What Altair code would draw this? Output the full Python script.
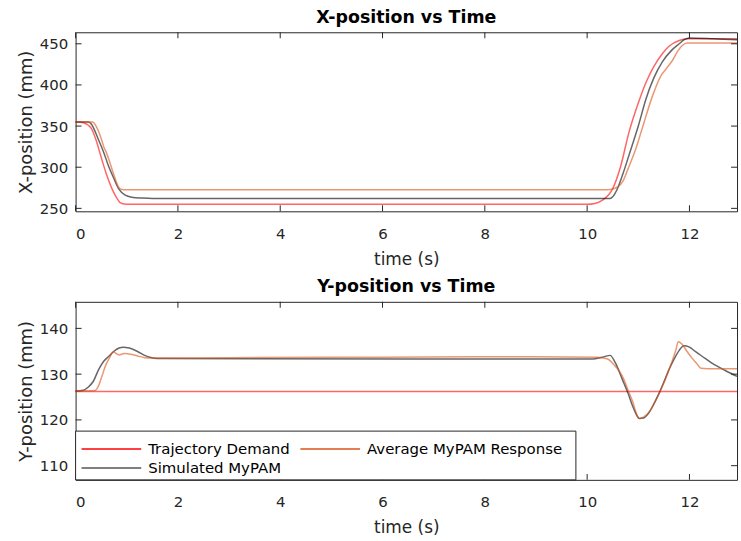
import altair as alt
import pandas as pd

X_MAX = 12.93
x_ticks = [0, 2, 4, 6, 8, 10, 12]
top_y_ticks = [250, 300, 350, 400, 450]
bot_y_ticks = [110, 120, 130, 140]
series_names = ["Trajectory Demand", "Average MyPAM Response", "Simulated MyPAM"]
series_colors = ["#ff0000", "#d95319", "#000000"]
legend_colors = ["#ff0000", "#d95319", "#555555"]

# ---- X-position panel ----
x_demand_t = [0, 0.15, 0.25, 0.31, 0.4, 0.51, 0.6, 0.71, 0.8, 0.87, 0.95, 1.05, 10.0, 10.15, 10.3, 10.5,
              10.65, 10.82, 11.0, 11.15, 11.3, 11.47, 11.6, 11.8, 11.95, 12.93]
x_demand_v = [355, 354, 351, 347, 333, 310, 292, 274, 263, 257, 255.3, 255, 255, 256, 260, 274,
              300, 343, 378, 403, 422, 438, 447, 454, 456, 456]

x_avg_t = [0, 0.33, 0.4, 0.5, 0.55, 0.6, 0.7, 0.78, 0.85, 0.9, 1.0, 10.3, 10.45, 10.6, 10.7, 10.8,
           10.95, 11.1, 11.28, 11.45, 11.55, 11.67, 11.78, 11.86, 11.95, 12.93]
x_avg_v = [355, 355, 350, 335, 325, 318, 300, 285, 275, 273, 272.5, 272.5, 273, 276, 283, 298,
           322, 352, 387, 412, 420, 430, 442, 448, 451, 451]

x_sim_t = [0, 0.25, 0.3, 0.45, 0.55, 0.64, 0.75, 0.84, 0.97, 1.1, 1.3, 1.5, 10.45, 10.5, 10.6, 10.7,
           10.82, 11.0, 11.15, 11.3, 11.47, 11.65, 11.8, 11.9, 12.0, 12.5, 12.93]
x_sim_v = [355, 355, 353, 333, 318, 302, 286, 274, 266, 263.5, 262.5, 262, 262, 264, 275, 292,
           315, 350, 383, 408, 428, 442, 450, 455, 457, 456, 455]

# ---- Y-position panel ----
y_demand_t = [0, 12.93]
y_demand_v = [126.2, 126.2]

y_avg_t = [0, 0.38, 0.45, 0.52, 0.58, 0.66, 0.74, 0.78, 0.85, 0.95, 1.1, 1.2, 1.35, 1.5, 3, 6, 9, 10.2,
           10.4, 10.53, 10.62, 10.72, 10.8, 10.89, 10.96, 11.02, 11.1, 11.25, 11.35, 11.47, 11.57,
           11.67, 11.74, 11.78, 11.82, 11.86, 11.95, 12.05, 12.15, 12.22, 12.35, 12.93]
y_avg_v = [126.3, 126.4, 127.5, 129.7, 131.7, 133.5, 134.9, 134.6, 134.2, 134.5, 134.3, 134.0, 133.6,
           133.5, 133.6, 133.7, 133.8, 133.7, 133.3, 132, 130.8, 128.8, 126.5, 124, 121.5, 120.3,
           120.6, 122.3, 124.5, 127.3, 130, 133.1, 135.5, 137.1, 136.9, 136.5, 135, 133.5, 132.2,
           131.3, 131.2, 131.2]

y_sim_t = [0, 0.15, 0.25, 0.35, 0.45, 0.55, 0.64, 0.75, 0.85, 0.93, 1.05, 1.22, 1.35, 1.45, 1.6, 10.1,
           10.3, 10.45, 10.55, 10.69, 10.8, 10.89, 10.96, 11.02, 11.1, 11.21, 11.3, 11.41, 11.5, 11.6,
           11.7, 11.8, 11.89, 12.0, 12.12, 12.3, 12.44, 12.7, 12.93]
y_sim_v = [126.3, 126.5, 127.2, 128.5, 131, 132.8, 133.8, 135, 135.7, 135.9, 135.7, 134.9, 134.1, 133.7,
           133.4, 133.3, 133.7, 134.1, 132.5, 128.8, 125.8, 123, 121.2, 120.3, 120.4, 121.6, 123.4,
           125.9, 128.3, 131, 133.3, 135.2, 136.2, 135.9, 134.9, 133.5, 132.4, 130.8, 129.5]


def frame(pairs):
    rows = []
    for name, ts, vs in pairs:
        for t, v in zip(ts, vs):
            rows.append({"t": t, "v": v, "series": name})
    return pd.DataFrame(rows)


top_df = frame([("Trajectory Demand", x_demand_t, x_demand_v),
                ("Simulated MyPAM", x_sim_t, x_sim_v),
                ("Average MyPAM Response", x_avg_t, x_avg_v)])
bot_df = frame([("Trajectory Demand", y_demand_t, y_demand_v),
                ("Simulated MyPAM", y_sim_t, y_sim_v),
                ("Average MyPAM Response", y_avg_t, y_avg_v)])

W = 665
FONT = "DejaVu Sans"
TXT = "#262626"


def panel(df, ytitle, ydomain, yticks, height):
    xs = alt.Scale(domain=[0, X_MAX], nice=False, zero=False)
    ys = alt.Scale(domain=ydomain, nice=False, zero=False)
    xaxis = alt.Axis(title="time (s)", values=x_ticks, grid=False, ticks=False, tickSize=0,
                     domain=False, labelPadding=15, titlePadding=10, format="d",
                     labelFontSize=15, titleFontSize=17, labelColor=TXT, titleColor=TXT,
                     labelFont=FONT, titleFont=FONT, titleFontWeight="normal")
    yaxis = alt.Axis(title=ytitle, values=yticks, grid=False, ticks=False, tickSize=0,
                     domain=False, labelPadding=8, titlePadding=4, format="d",
                     labelFontSize=15, titleFontSize=18, labelColor=TXT, titleColor=TXT,
                     labelFont=FONT, titleFont=FONT, titleFontWeight="normal")
    x = alt.X("t:Q", scale=xs, axis=xaxis)
    y = alt.Y("v:Q", scale=ys, axis=yaxis)
    lines = alt.Chart(df).mark_line(strokeWidth=1.5, opacity=0.6, interpolate="monotone").encode(
        x=x, y=y,
        color=alt.Color("series:N", scale=alt.Scale(domain=series_names, range=series_colors),
                        legend=None),
    )
    xt = pd.DataFrame({"t": x_ticks})
    yt = pd.DataFrame({"v": yticks})
    tk = dict(color=TXT, thickness=1, size=6, opacity=1)
    t_bottom = alt.Chart(xt).mark_tick(**tk).encode(x=x, y=alt.value(height - 3))
    t_top = alt.Chart(xt).mark_tick(**tk).encode(x=x, y=alt.value(3))
    t_left = alt.Chart(yt).mark_tick(**tk).encode(y=y, x=alt.value(3))
    t_right = alt.Chart(yt).mark_tick(**tk).encode(y=y, x=alt.value(W - 3))
    return [lines, t_bottom, t_top, t_left, t_right]


def legend_layers(height):
    # box anchored to the bottom-left of the plot area
    box = alt.Chart(pd.DataFrame({"k": [0]})).mark_rect(
        fill="white", stroke=TXT, strokeWidth=1
    ).encode(x=alt.value(0), x2=alt.value(503), y=alt.value(height - 49), y2=alt.value(height))
    slots = [(6, height - 31), (226, height - 31), (6, height - 12)]
    out = [box]
    for name, col, (lx, ly) in zip(series_names, legend_colors, slots):
        d = pd.DataFrame({"series": [name]})
        out.append(alt.Chart(d).mark_rule(color=col, strokeWidth=1.5).encode(
            x=alt.value(lx), x2=alt.value(lx + 60), y=alt.value(ly)))
        out.append(alt.Chart(d).mark_text(
            align="left", baseline="middle", font=FONT, fontSize=15, color="#000000"
        ).encode(text="series:N", x=alt.value(lx + 67), y=alt.value(ly)))
    return out


def titled(layers, title, height):
    return alt.layer(*layers).properties(
        width=W, height=height,
        title=alt.Title(title, fontSize=17.5, fontWeight="bold", font=FONT, color="#000000", offset=6),
    )


top = titled(panel(top_df, "X-position (mm)", [246.4, 464], top_y_ticks, 180),
             "X-position vs Time", 180)
bot = titled(panel(bot_df, "Y-position (mm)", [106.9, 145.8], bot_y_ticks, 179) + legend_layers(179),
             "Y-position vs Time", 179)

chart = alt.vconcat(top, bot, spacing=10).properties(
    padding={"left": 16, "top": 7, "right": 0, "bottom": 0},
    background="white",
).configure_view(stroke=TXT, strokeWidth=1)

chart.save("out.html", embed_options={"renderer": "svg", "actions": False})
